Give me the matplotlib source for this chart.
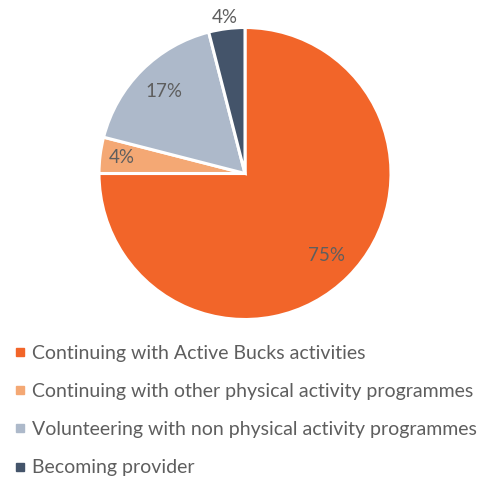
import matplotlib
matplotlib.use("Agg")
import matplotlib.pyplot as plt
from matplotlib.lines import Line2D
import numpy as np

categories = [
    "Continuing with Active Bucks activities",
    "Continuing with other physical activity programmes",
    "Volunteering with non physical activity programmes",
    "Becoming provider",
]
values = [75, 4, 17, 4]
labels = ["75%", "4%", "17%", "4%"]
colors = ["#F26529", "#F4A874", "#ADB9CA", "#44546A"]
label_radius = [0.79, 0.85, 0.79, 1.08]

plt.rcParams["font.family"] = ["Lato", "DejaVu Sans"]
text_color = "#5E5E5E"

W, H = 485, 479
fig = plt.figure(figsize=(W / 100, H / 100), dpi=100)

cx, cy, r = 245, 173.5, 146
ax = fig.add_axes([(cx - r) / W, (H - cy - r) / H, 2 * r / W, 2 * r / H])
wedges, _ = ax.pie(values, colors=colors, startangle=90, counterclock=False,
                   radius=1.0, wedgeprops=dict(edgecolor="white", linewidth=2.2))
ax.set_xlim(-1, 1)
ax.set_ylim(-1, 1)
ax.set_aspect("equal")
ax.axis("off")

for w, lab, rr in zip(wedges, labels, label_radius):
    ang = np.deg2rad((w.theta1 + w.theta2) / 2)
    ax.text(rr * np.cos(ang), rr * np.sin(ang), lab, ha="center", va="center",
            fontsize=13.5, color=text_color, clip_on=False)

handles = [Line2D([0], [0], marker="s", linestyle="none", markersize=5.5,
                  markerfacecolor=c, markeredgecolor=c) for c in colors]
fig.legend(handles, categories, loc="upper left",
           bbox_to_anchor=(6 / W, 1 - 337 / H), frameon=False,
           fontsize=14, labelcolor=text_color, handlelength=0.6,
           handletextpad=0.35, labelspacing=1.09, borderaxespad=0)

fig.savefig("out.png", dpi=100)
